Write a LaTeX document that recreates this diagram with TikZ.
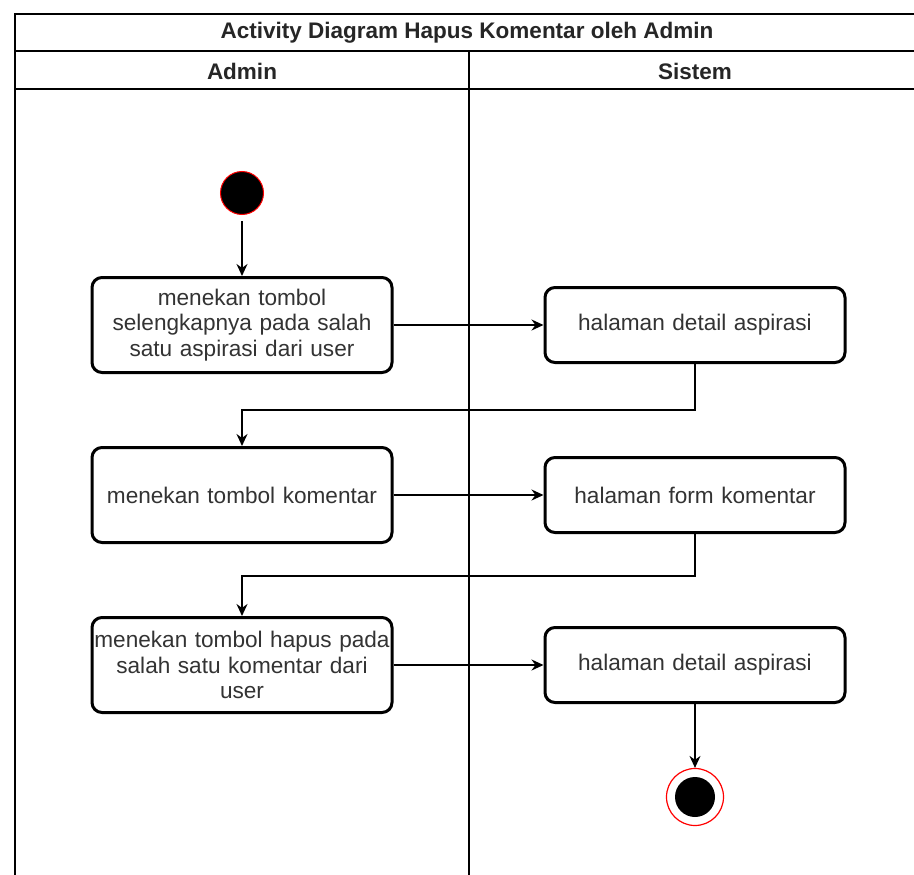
\documentclass[tikz,border=0pt]{standalone}
\usepackage{fontspec}
\setmainfont{Liberation Sans}
\usetikzlibrary{positioning, arrows.meta}

\begin{document}
\begin{tikzpicture}[
    x=1pt, y=-1pt,
    >={Stealth[length=12pt, width=11pt]},
    lane/.style={line width=1.5pt},
    flow/.style={->, line width=1.5pt},
    header/.style={font=\fontsize{22.5}{26}\selectfont\bfseries, text=black!85},
    activity/.style={draw, line width=3pt, rounded corners=10pt, fill=white,
        minimum width=300pt, text width=298pt, align=center, text=black!80,
        font=\fontsize{22.6}{25.5}\selectfont, inner sep=0pt},
    start/.style={circle, draw=red, fill=black, line width=1pt, minimum size=43pt, inner sep=0pt},
    finish/.style={circle, draw=red, fill=white, line width=1.2pt, minimum size=57pt, inner sep=0pt},
]
\useasboundingbox (0,0) rectangle (914,875);

% swimlanes
\draw[lane] (914,14) -- (15,14) -- (15,875);
\draw[lane] (15,51) -- (914,51);
\draw[lane] (15,89) -- (914,89);
\draw[lane] (469,51) -- (469,875);
\node[header] (title) at (467,33) {Activity Diagram Hapus Komentar oleh Admin};
\node[header] (admin) at (242,71) {Admin};
\node[header] (sistem) at (695,71) {Sistem};

% Admin lane
\node[start] (start) at (242,193) {};
\node[activity, minimum height=95pt] (tombol) at (242,325) {menekan tombol\\selengkapnya pada salah\\satu aspirasi dari user};
\node[activity, minimum height=95pt] (komentar) at (242,495) {menekan tombol komentar};
\node[activity, minimum height=95pt] (hapus) at (242,665) {menekan tombol hapus pada\\salah satu komentar dari\\user};

% Sistem lane
\node[activity, minimum height=75pt] (detail) at (695,325) {halaman detail aspirasi};
\node[activity, minimum height=75pt] (form) at (695,495) {halaman form komentar};
\node[activity, minimum height=75pt] (detail2) at (695,665) {halaman detail aspirasi};
\node[finish] (end) at (695,797) {};
\node[circle, fill=black, minimum size=40pt, inner sep=0pt] (endcore) at (end.center) {};

\draw[flow, shorten <=6pt] (start) -- (tombol);
\draw[flow] (tombol) -- (detail);
\draw[flow] (detail.south) -- ++(0,46) -| (komentar.north);
\draw[flow] (komentar) -- (form);
\draw[flow] (form.south) -- ++(0,42) -| (hapus.north);
\draw[flow] (hapus) -- (detail2);
\draw[flow] (detail2) -- (end);
\end{tikzpicture}
\end{document}
